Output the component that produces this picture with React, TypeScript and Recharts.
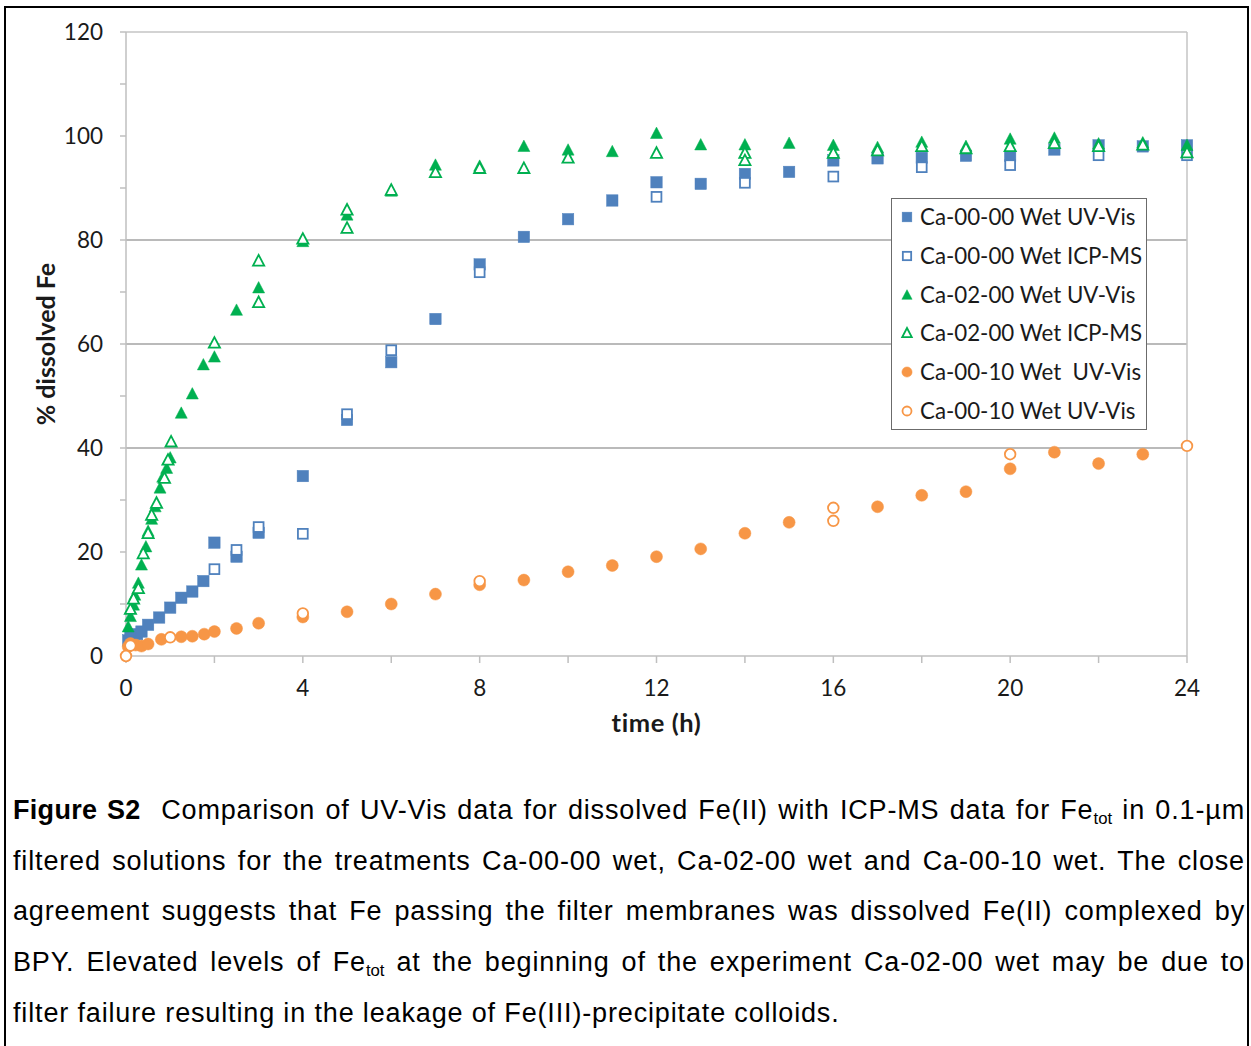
import React from 'react';
import { ScatterChart, Scatter, XAxis, YAxis, ReferenceLine, Legend, Label } from 'recharts';

// ---- data: [time (h), % dissolved Fe] ----
const ca0000UvVis: [number, number][] = [
  [0.05, 3], [0.1, 3.7], [0.25, 4.2], [0.35, 4.7], [0.5, 6], [0.75, 7.4], [1, 9.3], [1.25, 11.2],
  [1.5, 12.4], [1.75, 14.4], [2, 21.8], [2.5, 19.1], [3, 23.7], [4, 34.6], [5, 45.4], [6, 56.5],
  [7, 64.8], [8, 75.3], [9, 80.6], [10, 84], [11, 87.6], [12, 91.1], [13, 90.8], [14, 92.7],
  [15, 93.1], [16, 95.3], [17, 95.7], [18, 95.8], [19, 96.2], [20, 96.2], [21, 97.4], [22, 98.2],
  [23, 98], [24, 98.2],
];
const ca0000IcpMs: [number, number][] = [
  [2, 16.7], [2.5, 20.4], [3, 24.8], [4, 23.5], [5, 46.5], [6, 58.8], [8, 73.8], [12, 88.3],
  [14, 91], [16, 92.2], [18, 94], [20, 94.4], [22, 96.3], [24, 96.3],
];
const ca0200UvVis: [number, number][] = [
  [0.05, 5.6], [0.1, 7.6], [0.17, 9.8], [0.2, 11.7], [0.28, 14], [0.35, 17.5], [0.45, 21],
  [0.5, 24], [0.58, 26.3], [0.66, 28.7], [0.77, 32.3], [0.83, 34.4], [0.92, 36.1], [1, 38.1],
  [1.25, 46.7], [1.5, 50.4], [1.75, 56], [2, 57.5], [2.5, 66.5], [3, 70.8], [4, 79.7], [5, 84.8],
  [6, 89.4], [7, 94.4], [8, 94.2], [9, 98], [10, 97.3], [11, 97], [12, 100.5], [13, 98.3],
  [14, 98.3], [15, 98.6], [16, 98.2], [17, 97.8], [18, 98.8], [19, 98], [20, 99.4], [21, 99.6],
  [22, 98.5], [23, 98.7], [24, 98.2],
];
const ca0200IcpMs: [number, number][] = [
  [0.1, 9], [0.17, 11], [0.28, 13], [0.39, 19.7], [0.5, 23.6], [0.58, 27.1], [0.69, 29.4],
  [0.87, 34.2], [0.95, 37.7], [1.02, 41.2], [2, 60.2], [3, 76], [3, 68], [4, 80.2], [5, 85.8],
  [5, 82.3], [6, 89.6], [7, 93], [8, 93.8], [9, 93.8], [10, 95.8], [12, 96.7], [14, 96.7],
  [14, 95.3], [16, 96.7], [17, 97.2], [18, 98], [19, 97.6], [20, 98], [21, 98.6], [22, 98],
  [23, 98.3], [24, 96.8],
];
const ca0010UvVis: [number, number][] = [
  [0.05, 1.8], [0.1, 2.4], [0.22, 2.1], [0.35, 1.9], [0.5, 2.3], [0.8, 3.2], [1.25, 3.7],
  [1.5, 3.8], [1.77, 4.2], [2, 4.7], [2.5, 5.3], [3, 6.3], [4, 7.5], [5, 8.5], [6, 10],
  [7, 11.9], [8, 13.7], [9, 14.6], [10, 16.2], [11, 17.4], [12, 19.1], [13, 20.6], [14, 23.6],
  [15, 25.7], [17, 28.7], [18, 30.9], [19, 31.6], [20, 36], [21, 39.2], [22, 37], [23, 38.8],
];
const ca0010UvVisOpen: [number, number][] = [
  [0, 0], [0.1, 2], [1, 3.6], [4, 8.2], [8, 14.4], [16, 28.5], [16, 26], [20, 38.8], [24, 40.4],
];

const xTicks = [0, 2, 4, 6, 8, 10, 12, 14, 16, 18, 20, 22, 24];
const yTicks = [0, 10, 20, 30, 40, 50, 60, 70, 80, 90, 100, 110, 120];
const gridValues = [40, 60, 80];

const legendLabels = [
  'Ca-00-00 Wet UV-Vis',
  'Ca-00-00 Wet ICP-MS',
  'Ca-02-00 Wet UV-Vis',
  'Ca-02-00 Wet ICP-MS',
  'Ca-00-10 Wet  UV-Vis',
  'Ca-00-10 Wet UV-Vis',
];

const BLUE = '#4F81BD';
const GREEN = '#00B050';
const ORANGE = '#F79646';

const toPoints = (arr: [number, number][]) => arr.map(([t, v]) => ({ t, v }));

type Kind = 'square' | 'triangle' | 'circle';

const Marker = ({ kind, filled, color, cx, cy, s = 1 }: any) => {
  if (cx == null || cy == null) return null;
  const fill = filled ? color : '#fff';
  const stroke = color;
  const sw = filled ? 0.5 : 1.8;
  if (kind === 'square') {
    const h = (filled ? 5.7 : 4.9) * s;
    return <rect x={cx - h} y={cy - h} width={2 * h} height={2 * h} fill={fill} stroke={stroke} strokeWidth={sw} />;
  }
  if (kind === 'triangle') {
    const w = (filled ? 6 : 5.6) * s;
    const pts = `${cx},${cy - w * 1.05} ${cx - w},${cy + w * 0.85} ${cx + w},${cy + w * 0.85}`;
    return <polygon points={pts} fill={fill} stroke={stroke} strokeWidth={sw} strokeLinejoin="miter" />;
  }
  const r = (filled ? 6 : 5.3) * s;
  return <circle cx={cx} cy={cy} r={r} fill={fill} stroke={stroke} strokeWidth={sw} />;
};

const makeShape = (kind: Kind, filled: boolean, color: string) => (props: any) => (
  <Marker kind={kind} filled={filled} color={color} cx={props.cx} cy={props.cy} />
);

const seriesDefs: { name: string; data: [number, number][]; kind: Kind; filled: boolean; color: string }[] = [
  { name: legendLabels[0], data: ca0000UvVis, kind: 'square', filled: true, color: BLUE },
  { name: legendLabels[1], data: ca0000IcpMs, kind: 'square', filled: false, color: BLUE },
  { name: legendLabels[2], data: ca0200UvVis, kind: 'triangle', filled: true, color: GREEN },
  { name: legendLabels[3], data: ca0200IcpMs, kind: 'triangle', filled: false, color: GREEN },
  { name: legendLabels[4], data: ca0010UvVis, kind: 'circle', filled: true, color: ORANGE },
  { name: legendLabels[5], data: ca0010UvVisOpen, kind: 'circle', filled: false, color: ORANGE },
];

const FONT = 'Lato, "Open Sans", sans-serif';

const LegendBox = () => (
  <div
    style={{
      width: 256,
      height: 232,
      boxSizing: 'border-box',
      border: '1.5px solid #6b6b6b',
      background: '#fff',
      fontFamily: FONT,
      fontSize: 22.3,
      color: '#1a1a1a',
      position: 'relative',
    }}
  >
    {seriesDefs.map((d, i) => (
      <div
        key={i}
        style={{ position: 'absolute', left: 0, top: -1 + i * 38.8, height: 38.8, width: 250, whiteSpace: 'pre', lineHeight: '38.8px' }}
      >
        <svg width={16} height={16} style={{ position: 'absolute', left: 7, top: 11 }}>
          <Marker kind={d.kind} filled={d.filled} color={d.color} cx={8} cy={8} s={0.85} />
        </svg>
        <span style={{ position: 'absolute', left: 28, top: 0 }}>{d.name}</span>
      </div>
    ))}
  </div>
);

const YTitle = ({ viewBox }: any) => {
  const cy = viewBox.y + viewBox.height / 2;
  const x = 45;
  return (
    <text
      x={x}
      y={cy}
      transform={`rotate(-90 ${x} ${cy})`}
      textAnchor="middle"
      dominantBaseline="central"
      style={{ fontFamily: FONT, fontSize: 25, fontWeight: 700, fill: '#1a1a1a' }}
    >
      % dissolved Fe
    </text>
  );
};

const XTitle = ({ viewBox }: any) => {
  const cx = viewBox.x + viewBox.width / 2;
  return (
    <text
      x={cx}
      y={722}
      textAnchor="middle"
      dominantBaseline="central"
      style={{ fontFamily: FONT, fontSize: 25.5, fontWeight: 700, fill: '#1a1a1a', letterSpacing: 0.6 }}
    >
      time (h)
    </text>
  );
};

const lineStyle: React.CSSProperties = {
  height: 50.7,
  lineHeight: '50.7px',
  textAlign: 'justify',
  textAlignLast: 'justify',
  whiteSpace: 'nowrap' as any,
};

const Sub = ({ children }: any) => (
  <span style={{ fontSize: '62%', position: 'relative', top: 5, letterSpacing: 0 }}>{children}</span>
);

export default function App() {
  return (
    <div style={{ position: 'absolute', left: 0, top: 0, width: 1251, height: 1046, background: '#fff', overflow: 'hidden' }}>
      <div
        style={{
          position: 'absolute',
          left: 4,
          top: 6,
          width: 1245,
          height: 1100,
          boxSizing: 'border-box',
          border: '2.5px solid #000',
        }}
      />
      <div style={{ position: 'absolute', left: 0, top: 0 }}>
        <ScatterChart width={1251} height={770} margin={{ top: 32, right: 64, bottom: 74, left: 0 }}>
          {gridValues.map((g) => (
            <ReferenceLine key={g} y={g} stroke="#A3A3A3" strokeWidth={1.3} />
          ))}
          <ReferenceLine y={120} stroke="#C4C4C4" strokeWidth={1.5} />
          <ReferenceLine x={24} stroke="#C4C4C4" strokeWidth={1.5} />
          <XAxis
            type="number"
            dataKey="t"
            domain={[0, 24]}
            ticks={xTicks}
            interval={0}
            tickFormatter={(v: number) => (v % 4 === 0 ? String(v) : '')}
            height={40}
            tickSize={7}
            tickMargin={17}
            axisLine={{ stroke: '#BFBFBF', strokeWidth: 1.5 }}
            tickLine={{ stroke: '#BFBFBF', strokeWidth: 1.5 }}
            tick={{ fontFamily: FONT, fontSize: 22.5, fill: '#1a1a1a' }}
          >
            <Label content={<XTitle />} />
          </XAxis>
          <YAxis
            type="number"
            dataKey="v"
            domain={[0, 120]}
            ticks={yTicks}
            interval={0}
            tickFormatter={(v: number) => (v % 20 === 0 ? String(v) : '')}
            width={126}
            tickSize={6}
            tickMargin={17}
            axisLine={{ stroke: '#BFBFBF', strokeWidth: 1.5 }}
            tickLine={{ stroke: '#BFBFBF', strokeWidth: 1.5 }}
            tick={{ fontFamily: FONT, fontSize: 22.5, fill: '#1a1a1a' }}
          >
            <Label content={<YTitle />} />
          </YAxis>
          {seriesDefs.map((d) => (
            <Scatter
              key={d.name + d.kind + d.filled}
              name={d.name}
              data={toPoints(d.data)}
              shape={makeShape(d.kind, d.filled, d.color)}
              isAnimationActive={false}
            />
          ))}
          <Legend
            layout="vertical"
            align="center"
            verticalAlign="middle"
            content={<LegendBox />}
            wrapperStyle={{ left: 891, top: 198, width: 256, height: 232 }}
          />
        </ScatterChart>
      </div>
      <div
        style={{
          position: 'absolute',
          left: 13,
          top: 785,
          width: 1232,
          fontFamily: '"Liberation Sans", Arial, sans-serif',
          fontSize: 27,
          letterSpacing: 0.85,
          color: '#000',
        }}
      >
        <div style={lineStyle}>
          <b style={{ letterSpacing: 0.3 }}>Figure S2</b>{'\u00a0\u00a0'}Comparison of UV-Vis data for dissolved Fe(II) with ICP-MS data for Fe<Sub>tot</Sub> in 0.1-µm
        </div>
        <div style={lineStyle}>filtered solutions for the treatments Ca-00-00 wet, Ca-02-00 wet and Ca-00-10 wet. The close</div>
        <div style={lineStyle}>agreement suggests that Fe passing the filter membranes was dissolved Fe(II) complexed by</div>
        <div style={lineStyle}>
          BPY. Elevated levels of Fe<Sub>tot</Sub> at the beginning of the experiment Ca-02-00 wet may be due to
        </div>
        <div style={{ ...lineStyle, textAlignLast: 'left' }}>filter failure resulting in the leakage of Fe(III)-precipitate colloids.</div>
      </div>
    </div>
  );
}
